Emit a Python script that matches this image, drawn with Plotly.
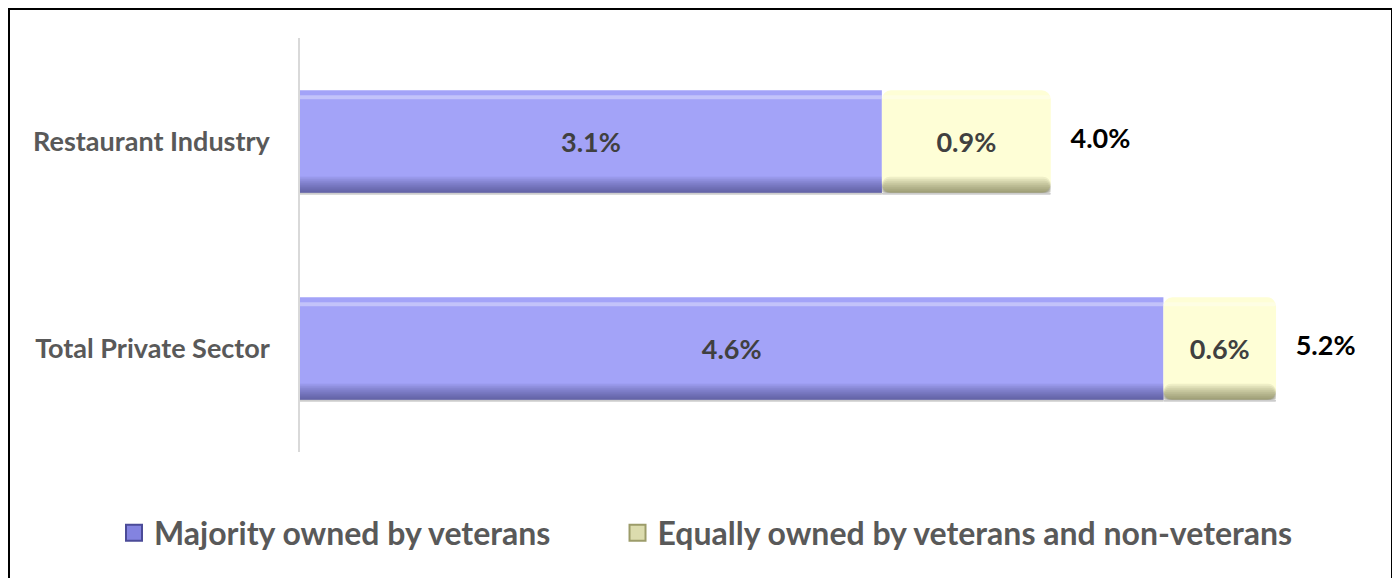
import plotly.graph_objects as go

categories = ["Restaurant Industry", "Total Private Sector"]
majority_vals = [3.1, 4.6]
equal_vals = [0.9, 0.6]
series_names = ["Majority owned by veterans", "Equally owned by veterans and non-veterans"]
totals = [round(a + b, 1) for a, b in zip(majority_vals, equal_vals)]

FONT = "Lato"
# page body has an 8px margin, so the figure is sized to fit the 1400x578 window
W, H = 1392, 570
ML, MR, MT, MB = 292, 49, 30, 126
PW, PH = W - ML - MR, H - MT - MB
PX_PER_CAT = PH / 2.0          # pixels per category unit on y
BAR_W = 0.495
HALF = BAR_W / 2

series = [
    dict(name=series_names[0], vals=majority_vals, base=[0] * len(majority_vals),
         color="#a3a3f8", shade=(35, 35, 95), radius=0,
         legend_fill="#8383e0", legend_edge="#4b4b98", pad=" " * 8),
    dict(name=series_names[1], vals=equal_vals, base=majority_vals,
         color="#fefed6", shade=(70, 70, 30), radius=9,
         legend_fill="#dcdcae", legend_edge="#9c9c6a", pad=""),
]

fig = go.Figure()
for s in series:
    fig.add_trace(go.Bar(
        y=categories, x=s["vals"], base=s["base"], orientation="h", name=s["name"],
        showlegend=False,
        marker=dict(color=s["color"], line=dict(width=0), cornerradius=s["radius"]),
        text=[f"{v:.1f}%" for v in s["vals"]], textposition="inside",
        insidetextanchor="middle", constraintext="none",
        textfont=dict(family=FONT, size=27, color="#404040", weight="bold"),
        width=BAR_W, hoverinfo="skip",
    ))

# bevel effect: bands layered over the bars (same data values)
def band(s, start_px, thick_px, rgba, radius):
    fig.add_trace(go.Bar(
        y=categories, x=s["vals"], base=s["base"], orientation="h", showlegend=False,
        marker=dict(color=rgba, line=dict(width=0), cornerradius=radius),
        width=thick_px / PX_PER_CAT, offset=-HALF + start_px / PX_PER_CAT,
        hoverinfo="skip",
    ))

bar_px = BAR_W * PX_PER_CAT
for s in series:
    r, g, b = s["shade"]
    rad = s["radius"]
    # top highlight
    band(s, 5, 4, "rgba(255,255,255,0.35)", min(rad, 2))
    # bottom darkening gradient (nested bands ending at bar bottom)
    for d in [16, 14, 12, 10, 8, 6, 4, 2]:
        band(s, bar_px - d, d, f"rgba({r},{g},{b},0.08)", rad)
    # thin shadow line under bar
    band(s, bar_px, 2, "rgba(0,0,0,0.2)", rad)

fig.add_trace(go.Scatter(
    y=categories, x=totals, mode="text", showlegend=False,
    text=[f"   {v:.1f}%" for v in totals], textposition="middle right",
    textfont=dict(family=FONT, size=27, color="#000000", weight="bold"),
    hoverinfo="skip", cliponaxis=False,
))

# legend entries
for s in series:
    fig.add_trace(go.Scatter(
        x=[None], y=[None], mode="markers", name=s["name"] + s["pad"],
        marker=dict(symbol="square", size=16, color=s["legend_fill"],
                    line=dict(color=s["legend_edge"], width=2)),
        hoverinfo="skip",
    ))

fig.update_layout(
    width=W, height=H, barmode="overlay",
    margin=dict(l=ML, r=MR, t=MT, b=MB, autoexpand=False),
    paper_bgcolor="white", plot_bgcolor="white",
    xaxis=dict(range=[0, PW / 187.7], visible=False, fixedrange=True),
    yaxis=dict(range=[1.5, -0.5], autorange=False, showline=True, linecolor="#d9d9d9",
               linewidth=1.5, ticks="", showgrid=False, zeroline=False,
               ticklabelstandoff=23,
               tickfont=dict(family=FONT, size=27, color="#595959", weight="bold")),
    legend=dict(orientation="h", x=(106 - ML) / PW, xanchor="left",
                y=(H - MB - 525) / PH, yanchor="middle",
                font=dict(family=FONT, size=32, color="#595959", weight="bold"),
                itemsizing="trace",
                traceorder="normal", bgcolor="rgba(0,0,0,0)"),
    shapes=[dict(type="rect", xref="paper", yref="paper",
                 x0=(0 - ML) / PW, x1=(1385 - ML) / PW,
                 y0=(H - MB - 620) / PH, y1=(H - MB - 0) / PH,
                 line=dict(color="black", width=4), fillcolor="rgba(0,0,0,0)", layer="below")],
)
fig.write_html("out.html")
